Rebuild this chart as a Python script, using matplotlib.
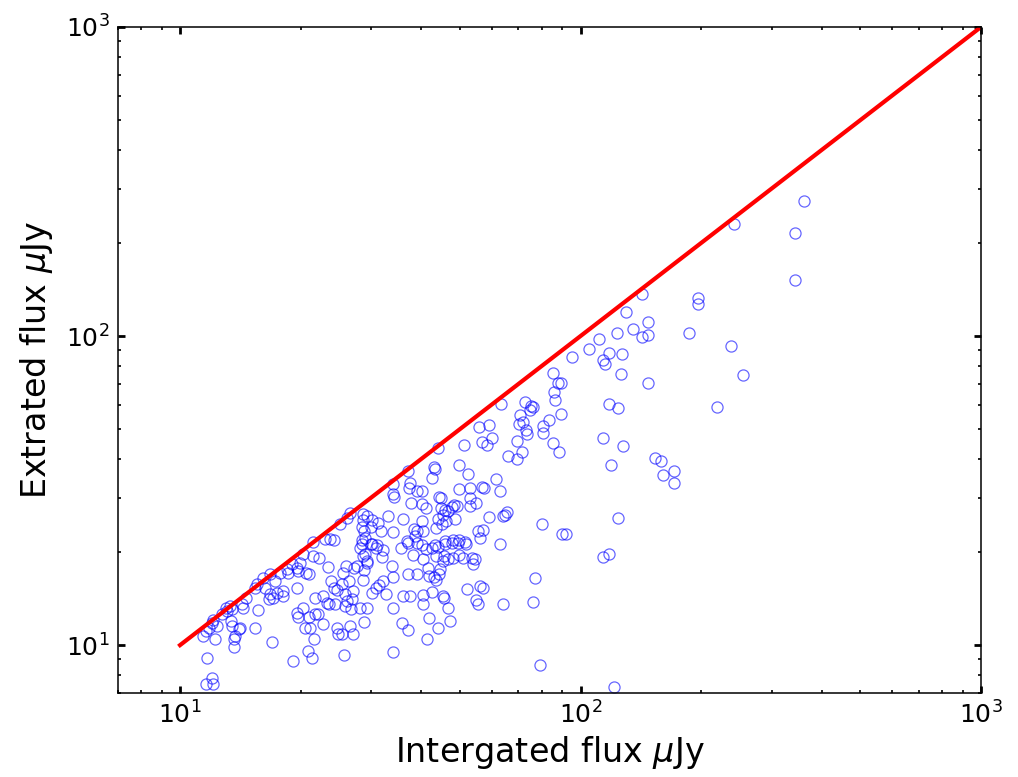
import numpy as np
import matplotlib
matplotlib.use("Agg")
import matplotlib.pyplot as plt

# integrated flux (uJy) vs extracted flux (uJy)
x_int = [
    11.4, 11.6, 11.8, 12.0, 12.1, 12.4, 12.2, 11.7, 11.6, 12.0, 12.1,
    12.7, 13.0, 13.1, 13.3, 13.5, 13.4, 13.5, 13.7, 13.6, 13.6, 14.1,
    14.0, 14.3, 14.4, 14.6, 15.4, 15.6, 15.7, 15.4, 16.1, 16.3, 16.8,
    16.7, 17.1, 16.8, 17.3, 17.5, 18.1, 18.1, 17.0, 17.8, 18.5, 18.6,
    19.05, 19.6, 19.7, 19.9, 20.3, 20.6, 21.0, 21.5, 22.2, 23.4, 19.6,
    19.6, 19.7, 20.3, 20.5, 21.1, 21.0, 21.6, 21.7, 22.1, 22.8, 21.7,
    22.8, 23.3, 23.6, 24.4, 23.8, 24.3, 24.7, 24.7, 24.8, 19.2, 20.9,
    21.4,
    28.5, 28.2, 30.2, 30.9, 32.2, 29.0, 28.7, 29.3, 29.3, 32.0, 35.7,
    37.1, 39.1, 40.2, 41.2, 42.6, 44.1, 45.9, 47.8, 49.5, 51.8, 63.0,
    38.2, 40.5, 43.6, 45.6, 45.4, 46.6, 48.1, 49.8, 51.0, 53.6, 54.6,
    54.0, 26.0, 27.2, 27.7, 25.5, 28.8, 33.9, 34.1, 37.1, 39.1, 41.6,
    41.9, 43.1, 43.6, 44.6, 44.4, 26.4, 28.7, 25.4, 30.2, 30.9, 31.4,
    32.2, 32.7, 27.0, 25.8, 26.9, 26.1, 25.8, 26.7, 28.2, 29.3, 36.1,
    37.6, 40.5, 40.5, 42.6, 45.4, 45.6, 46.6, 52.1, 56.2, 57.1, 54.9,
    55.5, 64.1, 34.1, 28.8, 26.6, 27.1, 25.4, 35.9, 37.1, 41.9, 44.1,
    47.3, 41.4, 34.1, 25.6,
    37.1, 37.6, 37.3, 39.1, 34.1, 34.1, 34.3, 37.8, 33.1, 36.1, 39.1,
    28.7, 29.3, 26.6, 26.1, 25.1, 28.7, 30.2, 31.3, 28.5, 30.0, 28.8,
    31.8, 34.1, 29.0, 28.5, 23.0, 23.7, 24.3, 21.5, 30.0, 31.1, 36.9,
    38.7, 38.4,
    63.4, 72.6, 75.1, 76.0, 74.9, 85.8, 86.3, 89.5, 70.7, 71.9, 70.3,
    83.5, 80.7, 80.7, 73.2, 73.6, 55.8, 59.2, 60.2, 56.8, 58.5, 51.2,
    44.1, 69.3, 85.3, 88.3, 71.5, 66.0, 69.3, 49.8, 43.1, 43.4, 52.4,
    42.6, 61.6, 56.8, 57.5, 52.9, 49.8, 63.0, 40.2, 44.4, 44.9, 53.0,
    54.9, 52.9, 40.2, 41.2, 44.9, 47.8, 48.4, 49.2, 45.9, 46.6, 45.4,
    65.6, 64.9, 64.2, 59.2, 48.7, 44.1, 46.1, 45.1, 40.2, 43.6, 40.5,
    55.5, 57.1, 56.2, 80.2, 90.0, 92.1, 48.1, 49.8, 51.5, 45.9, 43.4,
    114, 118, 77.1, 76.2, 79.3, 121,
    362, 343, 343, 241, 142, 197, 197, 130, 147, 135, 123, 142, 147,
    111, 105, 95.4, 118, 127, 114, 115, 126, 147, 187, 238, 255, 118,
    124, 219, 114,
    128, 119, 153, 159, 161, 171, 171, 124,
    85.4, 88.0, 89.5,
]

y_ext = [
    10.7, 11.1, 11.4, 11.8, 12.1, 11.5, 10.5, 9.1, 7.5, 7.85, 7.5,
    12.6, 13.2, 12.9, 13.4, 13.1, 12.0, 11.5, 10.7, 10.5, 9.85, 11.4,
    11.3, 13.6, 13.2, 14.2, 15.3, 15.8, 13.0, 11.35, 16.5, 15.3, 14.6,
    14.1, 14.2, 17.0, 16.1, 14.7, 15.0, 14.4, 10.2, 17.1, 17.6, 17.1,
    18.3, 17.8, 17.4, 18.4, 19.7, 17.1, 17.0, 19.4, 19.1, 17.9, 15.3,
    12.7, 12.3, 13.2, 11.4, 11.35, 12.3, 10.5, 12.6, 12.6, 11.7, 14.2,
    14.4, 13.7, 13.6, 13.6, 16.1, 15.3, 15.1, 11.35, 10.85, 8.9, 9.56,
    9.1,
    21.3, 20.6, 21.3, 20.6, 20.3, 19.7, 19.4, 18.7, 18.4, 19.3, 20.6,
    21.4, 21.4, 21.1, 20.5, 20.6, 20.8, 21.3, 21.4, 21.4, 21.3, 21.3,
    19.6, 19.0, 19.4, 19.4, 18.7, 19.0, 19.1, 19.6, 19.1, 19.1, 19.0,
    18.3, 18.0, 17.8, 18.0, 17.1, 17.5, 18.0, 16.6, 17.0, 17.0, 17.8,
    16.7, 16.6, 16.2, 17.6, 17.0, 16.1, 16.2, 15.8, 14.7, 15.3, 15.7,
    16.1, 14.6, 15.0, 14.6, 14.1, 13.9, 13.4, 13.1, 13.2, 13.2, 14.4,
    14.4, 14.5, 13.6, 14.85, 14.4, 14.2, 13.2, 15.2, 15.5, 15.3, 14.0,
    13.6, 13.6, 13.2, 11.9, 11.5, 10.85, 10.85, 11.8, 11.2, 12.2, 11.35,
    12.0, 10.5, 9.5, 9.3,
    36.7, 33.5, 32.3, 31.6, 33.3, 30.9, 30.2, 28.9, 26.2, 25.6, 23.4,
    26.6, 26.2, 26.8, 25.8, 24.7, 25.4, 25.4, 24.9, 24.1, 24.1, 23.4,
    23.4, 23.25, 22.2, 21.9, 22.1, 22.1, 21.9, 21.6, 21.3, 21.1, 21.7,
    22.6, 23.8,
    60.5, 61.0, 59.6, 59.1, 57.8, 65.7, 62.3, 56.1, 55.7, 52.9, 52.1,
    53.7, 51.3, 48.7, 49.8, 48.3, 50.6, 51.7, 46.9, 45.5, 44.5, 44.5,
    43.5, 45.9, 45.2, 42.3, 42.3, 41.0, 40.1, 38.3, 37.8, 37.2, 35.9,
    34.8, 34.5, 32.5, 32.3, 32.3, 32.0, 31.6, 31.6, 30.2, 30.0, 30.0,
    28.9, 28.2, 28.7, 27.8, 27.8, 28.0, 28.4, 28.2, 27.4, 27.2, 26.4,
    27.0, 26.4, 26.2, 26.0, 25.6, 25.6, 25.2, 24.7, 25.2, 24.0, 23.4,
    23.4, 23.6, 22.2, 24.7, 22.9, 22.9, 21.9, 21.9, 21.6, 21.7, 21.1,
    19.3, 19.7, 16.5, 13.8, 8.6, 7.3,
    273, 216, 152, 230, 137, 133, 127, 120, 111, 105, 102, 99, 100.5,
    97.5, 90.5, 85.3, 88.4, 87.8, 83.4, 81.5, 75.1, 70.3, 102, 92.7,
    75, 60.5, 58.7, 59.1, 46.9,
    44.2, 38.3, 40.3, 39.5, 35.6, 36.7, 33.5, 25.8,
    75.7, 70.7, 70.7,
]

line_x = [10, 1000]
line_y = [10, 1000]

fig = plt.figure(figsize=(10.18, 7.77), dpi=100)
ax = fig.add_axes([0.1159, 0.1081, 0.8478, 0.8572])

ax.plot(x_int, y_ext, "o", ms=8, mfc="none", mec="blue", mew=0.9, alpha=0.6)
ax.plot(line_x, line_y, "-", color="red", lw=3)

ax.set_xscale("log")
ax.set_yscale("log")
ax.set_xlim(7, 1000)
ax.set_ylim(7, 1000)

ax.tick_params(which="both", direction="in", top=True, right=True)
ax.tick_params(which="major", length=5, width=2, labelsize=18, pad=6)
ax.tick_params(which="minor", length=2.5, width=1.2)
for s in ax.spines.values():
    s.set_linewidth(1.1)

ax.set_xlabel(r"Intergated flux $\mu$Jy", fontsize=24, labelpad=4)
ax.set_ylabel(r"Extrated flux $\mu$Jy", fontsize=24, labelpad=8)

fig.savefig("out.png", dpi=100)
